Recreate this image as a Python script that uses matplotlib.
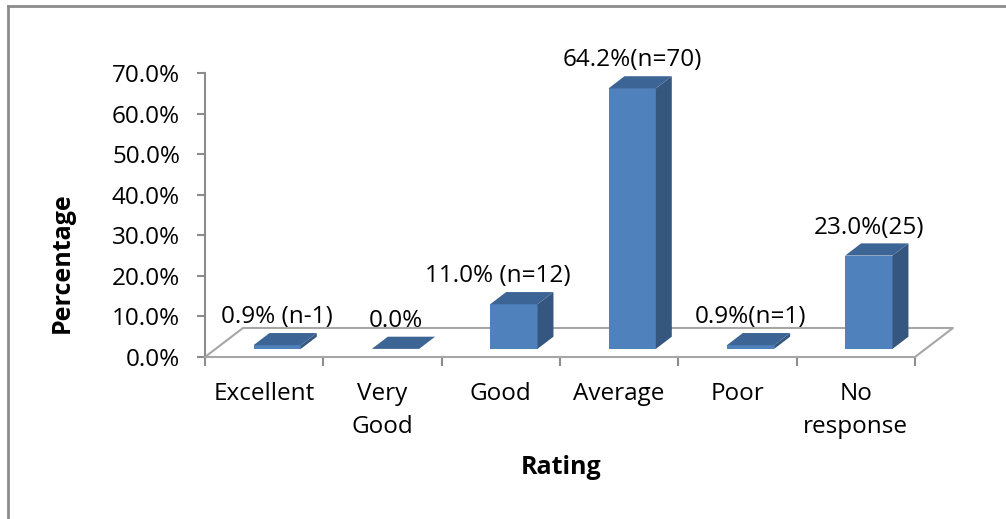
import matplotlib.pyplot as plt
from matplotlib.patches import Polygon
from matplotlib.lines import Line2D

# data
categories = ["Excellent", "Very\nGood", "Good", "Average", "Poor", "No\nresponse"]
percent = [0.9, 0.0, 11.0, 64.2, 0.9, 23.0]
bar_labels = ["0.9% (n-1)", "0.0%", "11.0% (n=12)", "64.2%(n=70)", "0.9%(n=1)", "23.0%(25)"]
yticks = [0, 10, 20, 30, 40, 50, 60, 70]

plt.rcParams['font.family'] = ['Open Sans', 'DejaVu Sans']
fs = 17.5
grey = '#8c8c8c'
c_front = '#4f81bd'
c_side = '#35567f'
c_top = '#3c6495'

W, H = 1006, 519
fig = plt.figure(figsize=(W / 100, H / 100), dpi=100)
ax = fig.add_axes([205 / W, (H - 357) / H, 710 / W, 284 / H])
ax.set_xlim(-0.5, 5.5)
ax.set_ylim(0, 70)

# 3d depth of the floor and the bars (data units)
ddx, ddy = 0.321, 7.15
f0, fd = 0.28, 0.42
bw = 0.40

# floor outline
fx = [-0.5, -0.5 + ddx, 5.5 + ddx, 5.5]
fy = [0, ddy, ddy, 0]
ax.plot(fx, fy, color='#a6a6a6', lw=1.5, clip_on=False, zorder=1)

for i, v in enumerate(percent):
    x0 = i - bw / 2 + f0 * ddx + 0.02
    y0 = f0 * ddy
    x1 = x0 + bw
    y1 = y0 + v
    ox, oy = fd * ddx, fd * ddy
    if v > 0:
        ax.add_patch(Polygon([(x0, y0), (x1, y0), (x1, y1), (x0, y1)],
                             facecolor=c_front, edgecolor='none', zorder=3, clip_on=False))
        ax.add_patch(Polygon([(x1, y0), (x1 + ox, y0 + oy), (x1 + ox, y1 + oy), (x1, y1)],
                             facecolor=c_side, edgecolor='none', zorder=3, clip_on=False))
    ax.add_patch(Polygon([(x0, y1), (x1, y1), (x1 + ox, y1 + oy), (x0 + ox, y1 + oy)],
                         facecolor=c_top, edgecolor='none', zorder=3, clip_on=False))

# value labels
label_dx = [0, 0, -16, 0, 0, 0]
for i, (v, t) in enumerate(zip(percent, bar_labels)):
    xc = i + f0 * ddx + 0.02
    ax.annotate(t, (xc, f0 * ddy + v), xytext=(label_dx[i] * 0.72, 28 * 0.72),
                textcoords='offset points', ha='center', va='center',
                fontsize=fs, zorder=5, annotation_clip=False)

for s in ['top', 'right']:
    ax.spines[s].set_visible(False)
ax.spines['left'].set_color(grey)
ax.spines['left'].set_linewidth(1.5)
ax.spines['bottom'].set_color('#a6a6a6')
ax.spines['bottom'].set_linewidth(1.5)

ax.set_yticks(yticks)
ax.set_yticklabels([f"{t:.1f}%" for t in yticks])
ax.tick_params(axis='y', direction='out', length=6, width=1.5, color=grey,
               labelsize=fs, pad=12)
ax.set_xticks(range(len(categories)))
ax.set_xticklabels(categories, linespacing=1.5)
ax.tick_params(axis='x', which='major', length=0, labelsize=fs, pad=18)
ax.set_xticks([i - 0.5 for i in range(len(categories) + 1)], minor=True)
ax.tick_params(axis='x', which='minor', direction='out', length=6.5, width=1.5, color=grey)
for lab in ax.get_xticklabels():
    lab.set_va('top')

fig.text(62 / W, 1 - 263 / H, "Percentage", rotation=90, ha='center', va='center',
         fontsize=fs + 0.5, fontweight='bold')
fig.text(561 / W, 1 - 468 / H, "Rating", ha='center', va='center',
         fontsize=fs + 0.5, fontweight='bold')

# chart frame (right and bottom cut off)
fig.add_artist(Line2D([7.5 / W, 7.5 / W], [0, 1 - 5.5 / H], color=grey, lw=2,
                      transform=fig.transFigure))
fig.add_artist(Line2D([7.5 / W, 1], [1 - 5.5 / H, 1 - 5.5 / H], color=grey, lw=2,
                      transform=fig.transFigure))

fig.savefig('out.png', dpi=100)
